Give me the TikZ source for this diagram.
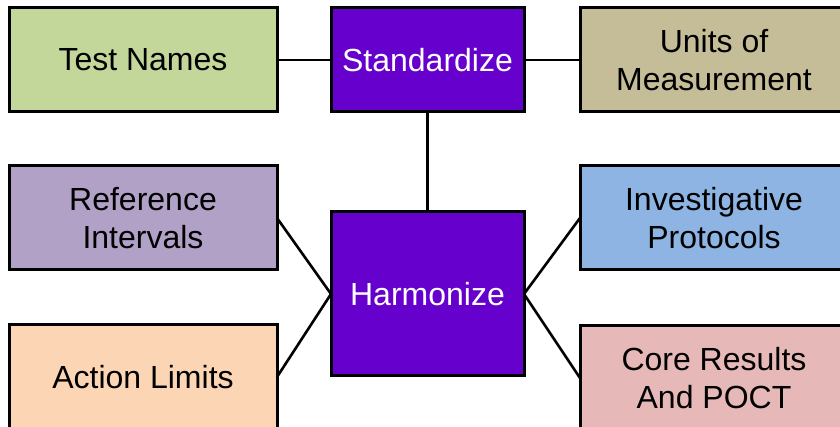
\documentclass[tikz,border=0pt]{standalone}
\usepackage{fontspec}
\setmainfont{Liberation Sans}
\definecolor{cgreen}{HTML}{C4D79B}
\definecolor{cpurple}{HTML}{6600CC}
\definecolor{ctan}{HTML}{C4BD97}
\definecolor{clilac}{HTML}{B2A1C7}
\definecolor{cpeach}{HTML}{FCD5B5}
\definecolor{cblue}{HTML}{8DB4E2}
\definecolor{cpink}{HTML}{E6B9B8}
\tikzset{
  box/.style={draw=black, line width=3pt, rectangle, inner sep=0pt, outer sep=0pt,
    minimum width=268pt, minimum height=104pt, align=center,
    font=\fontsize{32}{38}\selectfont, text=black},
  hub/.style={box, fill=cpurple, text=white, minimum width=193pt},
  link/.style={line width=2.6pt, black}
}
\begin{document}
\begin{tikzpicture}[x=1pt, y=1pt]
  \useasboundingbox (0,0) rectangle (840,427);
  \clip (0,0) rectangle (840,427);
  \fill[white] (0,0) rectangle (840,427);
  % central hubs
  \node[hub] (std) at (427.5,367) {Standardize};
  \node[hub, minimum height=164pt] (harm) at (427.5,133) {Harmonize};
  % outer topics
  \node[box, fill=cgreen] (test) at (143,367) {Test Names};
  \node[box, fill=ctan] (units) at (714,367) {Units of\\Measurement};
  \node[box, fill=clilac] (ref) at (143,209) {Reference\\Intervals};
  \node[box, fill=cpeach] (action) at (143,50) {Action Limits};
  \node[box, fill=cblue] (inv) at (714,209) {Investigative\\Protocols};
  \node[box, fill=cpink] (core) at (714,49) {Core Results\\And POCT};
  % connectors
  \draw[link] (test.east) -- (std.west);
  \draw[link] (std.east) -- (units.west);
  \draw[link] (std.south) -- (harm.north);
  \draw[link] (ref.east) -- (harm.west);
  \draw[link] (action.east) -- (harm.west);
  \draw[link] (harm.east) -- (inv.west);
  \draw[link] (harm.east) -- (core.west);
\end{tikzpicture}
\end{document}
